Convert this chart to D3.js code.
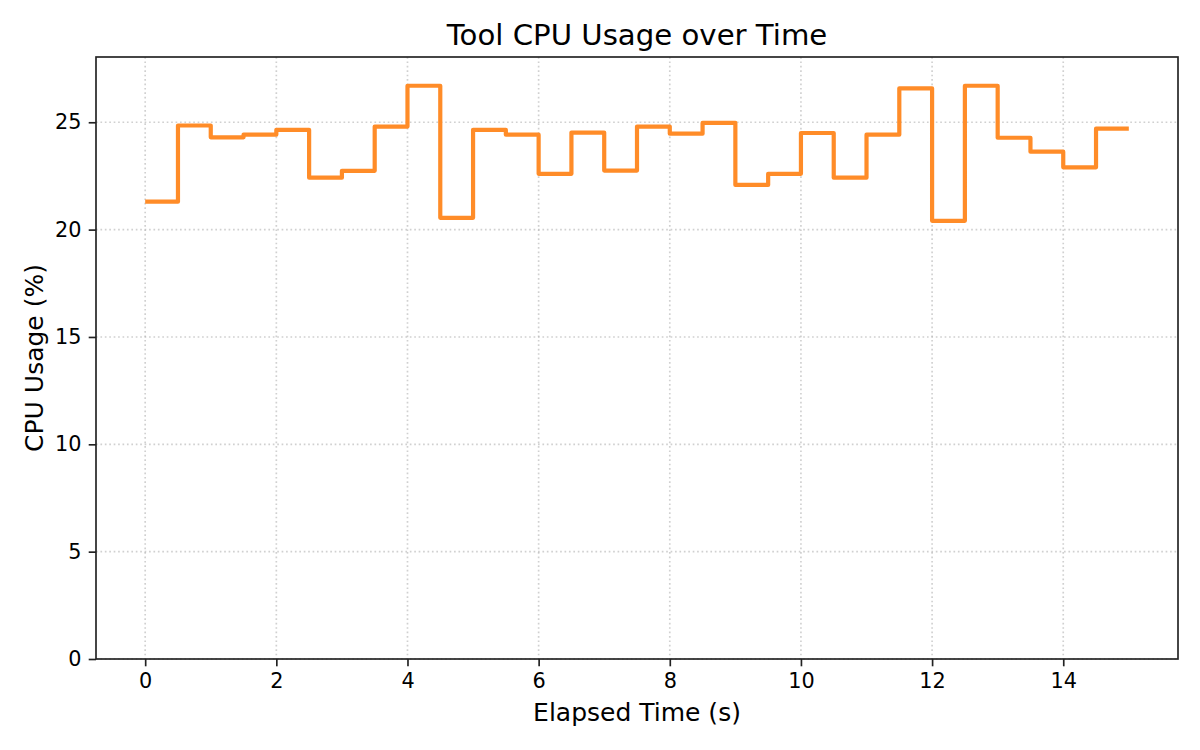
<!DOCTYPE html>
<html>
<head>
<meta charset="utf-8">
<script src="https://cdn.jsdelivr.net/npm/d3@7"></script>
<style>
  body { margin: 0; background: #fff; }
  svg { font-family: "DejaVu Sans", sans-serif; }
</style>
</head>
<body>
<div id="chart"></div>
<script>
// elapsed time samples (s) and CPU usage readings (%)
const times = [0, 0.5, 1, 1.5, 2, 2.5, 3, 3.5, 4, 4.5, 5, 5.5, 6, 6.5, 7, 7.5,
               8, 8.5, 9, 9.5, 10, 10.5, 11, 11.5, 12, 12.5, 13, 13.5, 14, 14.5, 15];
const cpu = [21.3, 24.85, 24.3, 24.42, 24.65, 22.42, 22.74, 24.8, 26.7, 20.55, 24.65, 24.42,
             22.6, 24.52, 22.75, 24.8, 24.47, 24.97, 22.08, 22.6, 24.5, 22.42, 24.42, 26.58,
             20.41, 26.7, 24.28, 23.63, 22.9, 24.7, 24.7];
const xTicks = [0, 2, 4, 6, 8, 10, 12, 14];
const yTicks = [0, 5, 10, 15, 20, 25];

const width = 1200, height = 750;
const margin = { top: 57, right: 22, bottom: 91, left: 96 };

const data = times.map((t, i) => ({ t: t, v: cpu[i] }));

const x = d3.scaleLinear()
    .domain([-0.75, 15.75])
    .range([margin.left, width - margin.right]);

const y = d3.scaleLinear()
    .domain([0, 28.04])
    .range([height - margin.bottom, margin.top]);

const svg = d3.select("#chart")
    .append("svg")
    .attr("width", width)
    .attr("height", height);

// grid
const grid = svg.append("g")
    .attr("stroke", "#b0b0b0")
    .attr("stroke-opacity", 0.6)
    .attr("stroke-width", 1.67)
    .attr("stroke-dasharray", "1.67,2.75");

grid.selectAll(".gx")
    .data(xTicks)
    .enter().append("line")
    .attr("x1", d => x(d)).attr("x2", d => x(d))
    .attr("y1", margin.top).attr("y2", height - margin.bottom);

grid.selectAll(".gy")
    .data(yTicks)
    .enter().append("line")
    .attr("x1", margin.left).attr("x2", width - margin.right)
    .attr("y1", d => y(d)).attr("y2", d => y(d));

// step line
const line = d3.line()
    .x(d => x(d.t))
    .y(d => y(d.v))
    .curve(d3.curveStepAfter);

svg.append("path")
    .datum(data)
    .attr("fill", "none")
    .attr("stroke", "#ff8c28")
    .attr("stroke-width", 4.2)
    .attr("stroke-linejoin", "round")
    .attr("d", line);

// axes
const xAxis = svg.append("g")
    .attr("transform", `translate(0,${height - margin.bottom})`)
    .call(d3.axisBottom(x).tickValues(xTicks).tickSize(7.3).tickPadding(7.3));

const yAxis = svg.append("g")
    .attr("transform", `translate(${margin.left},0)`)
    .call(d3.axisLeft(y).tickValues(yTicks).tickSize(7.3).tickPadding(7.3));

[xAxis, yAxis].forEach(a => {
    a.select(".domain").remove();
    a.selectAll(".tick line").attr("stroke", "#222").attr("stroke-width", 1.67);
    a.selectAll(".tick text")
        .attr("fill", "#000")
        .style("font-size", "20.8px")
        .style("font-family", "DejaVu Sans");
});

// frame
svg.append("rect")
    .attr("x", margin.left)
    .attr("y", margin.top)
    .attr("width", width - margin.left - margin.right)
    .attr("height", height - margin.top - margin.bottom)
    .attr("fill", "none")
    .attr("stroke", "#222")
    .attr("stroke-width", 1.67);

// title and labels
svg.append("text")
    .attr("x", (margin.left + width - margin.right) / 2)
    .attr("y", 45)
    .attr("text-anchor", "middle")
    .style("font-size", "29.2px")
    .text("Tool CPU Usage over Time");

svg.append("text")
    .attr("x", (margin.left + width - margin.right) / 2)
    .attr("y", 721)
    .attr("text-anchor", "middle")
    .style("font-size", "25px")
    .text("Elapsed Time (s)");

svg.append("text")
    .attr("transform", `translate(43,${(margin.top + height - margin.bottom) / 2}) rotate(-90)`)
    .attr("text-anchor", "middle")
    .style("font-size", "25px")
    .text("CPU Usage (%)");
</script>
</body>
</html>
